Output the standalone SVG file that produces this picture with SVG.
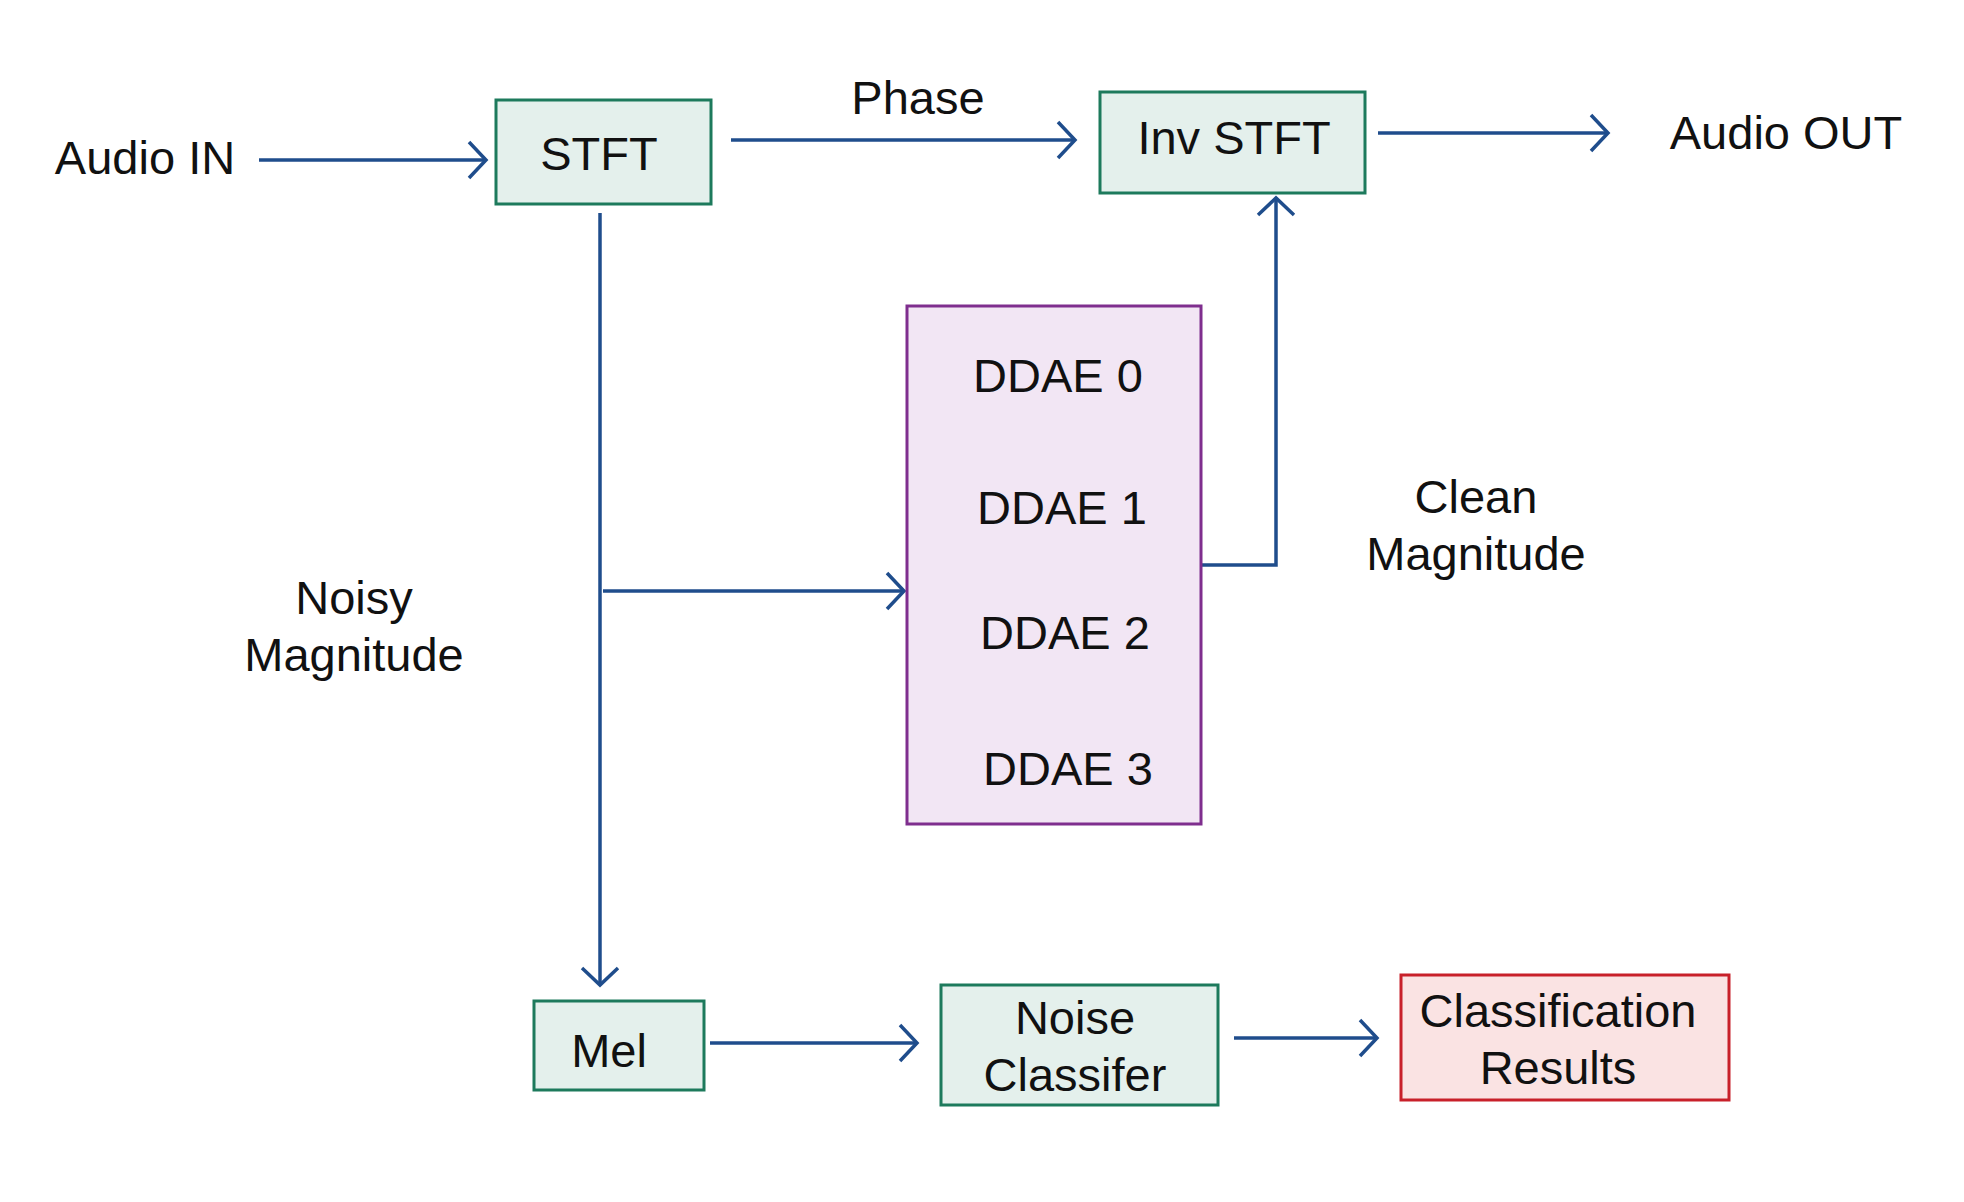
<svg xmlns="http://www.w3.org/2000/svg" width="1964" height="1202" viewBox="0 0 1964 1202">
<defs>
<style>
text{font-family:"Liberation Sans",Arial,sans-serif;font-size:47px;fill:#111;text-anchor:middle}
.g{fill:#e4f0ec;stroke:#1d7a5c;stroke-width:3}
.p{fill:#f2e6f4;stroke:#7f2e8e;stroke-width:3}
.r{fill:#fae3e3;stroke:#c8202a;stroke-width:3}
.c{fill:none;stroke:#1f4d8c;stroke-width:3.5}
</style>
<marker id="ah" markerUnits="userSpaceOnUse" markerWidth="30" markerHeight="44" viewBox="-24 -22 28 44" refX="0" refY="0" orient="auto">
<path d="M-17,-18 L0,0 L-17,18" fill="none" stroke="#1f4d8c" stroke-width="3.5"/>
</marker>
</defs>
<rect width="1964" height="1202" fill="#fff"/>
<g id="connectors">
<line class="c" x1="259" y1="160" x2="486" y2="160" marker-end="url(#ah)"/>
<line class="c" x1="731" y1="140" x2="1075" y2="140" marker-end="url(#ah)"/>
<line class="c" x1="1378" y1="133" x2="1608" y2="133" marker-end="url(#ah)"/>
<line class="c" x1="600" y1="213" x2="600" y2="985" marker-end="url(#ah)"/>
<line class="c" x1="603" y1="591" x2="904" y2="591" marker-end="url(#ah)"/>
<polyline class="c" points="1201,565 1276,565 1276,198" marker-end="url(#ah)"/>
<line class="c" x1="710" y1="1043" x2="917" y2="1043" marker-end="url(#ah)"/>
<line class="c" x1="1234" y1="1038" x2="1377" y2="1038" marker-end="url(#ah)"/>
</g>
<g id="labels">
<text x="145" y="174">Audio IN</text>
<text x="918" y="114">Phase</text>
<text x="1786" y="149">Audio OUT</text>
<text x="354" y="614">Noisy</text>
<text x="354" y="671">Magnitude</text>
<text x="1476" y="513">Clean</text>
<text x="1476" y="570">Magnitude</text>
</g>
<g id="stft"><rect class="g" x="496" y="100" width="215" height="104"/><text x="599" y="170">STFT</text></g>
<g id="invstft"><rect class="g" x="1100" y="92" width="265" height="101"/><text x="1234" y="154">Inv STFT</text></g>
<g id="ddae"><rect class="p" x="907" y="306" width="294" height="518"/>
<text x="1058" y="392">DDAE 0</text>
<text x="1062" y="524">DDAE 1</text>
<text x="1065" y="649">DDAE 2</text>
<text x="1068" y="785">DDAE 3</text>
</g>
<g id="mel"><rect class="g" x="534" y="1001" width="170" height="89"/><text x="609" y="1067">Mel</text></g>
<g id="noise"><rect class="g" x="941" y="985" width="277" height="120"/><text x="1075" y="1034">Noise</text><text x="1075" y="1091">Classifer</text></g>
<g id="results"><rect class="r" x="1401" y="975" width="328" height="125"/><text x="1558" y="1027">Classification</text><text x="1558" y="1084">Results</text></g>
</svg>
